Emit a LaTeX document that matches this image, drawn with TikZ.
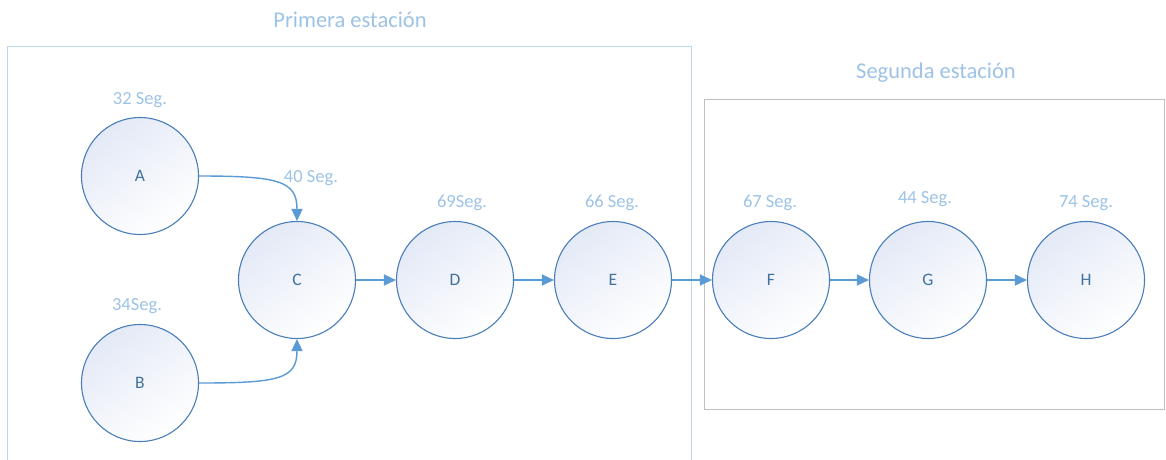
\documentclass[tikz,border=0pt]{standalone}
\usepackage{fontspec}
\setmainfont{Carlito}
\usetikzlibrary{arrows.meta}
\definecolor{cstroke}{HTML}{4A7EBB}
\definecolor{cfill}{HTML}{E3E9F6}
\definecolor{arrc}{HTML}{5B9BD5}
\definecolor{lblc}{HTML}{9DC3E6}
\definecolor{frame1}{HTML}{BDD7EE}
\definecolor{frame2}{HTML}{C0C0C0}
\definecolor{letc}{HTML}{41719C}
\tikzset{
  circ/.style={circle, draw=cstroke, line width=1.1pt, minimum size=117pt, inner sep=0pt,
    top color=cfill, bottom color=white, shading angle=35,
    font=\fontsize{17.5}{20}\selectfont, text=letc},
  lbl/.style={font=\fontsize{18.5}{22}\selectfont, text=lblc, inner sep=0pt},
  ttl/.style={font=\fontsize{22.5}{26}\selectfont, text=lblc, inner sep=0pt},
  arr/.style={draw=arrc, line width=1.4pt, -{Triangle[length=12pt,width=11pt]}, fill=none},
  frameA/.style={draw=frame1, line width=1pt},
  frameB/.style={draw=frame2, line width=1pt}
}
\begin{document}
\begin{tikzpicture}[x=1pt,y=-1pt]
\useasboundingbox (0,0) rectangle (1166,459);
\fill[white] (0,0) rectangle (1166,459);
% frames
\draw[frameA] (7,46) rectangle (691,462);
\draw[frameB] (704,99) rectangle (1164,409);
\node[ttl] (t1) at (350,20) {Primera estación};
\node[ttl] (t2) at (936,73) {Segunda estación};
% circles
\node[circ] (A) at (140,176) {A};
\node[circ] (B) at (140,383) {B};
\node[circ] (C) at (297,280) {C};
\node[circ] (D) at (455,280) {D};
\node[circ] (E) at (613,280) {E};
\node[circ] (F) at (771,280) {F};
\node[circ] (G) at (928,280) {G};
\node[circ] (H) at (1086,280) {H};
% labels
\node[lbl] (lA) at (140,100) {32 Seg.};
\node[lbl] (lB) at (137,306) {34Seg.};
\node[lbl] (lC) at (311,178) {40 Seg.};
\node[lbl] (lD) at (462,203) {69Seg.};
\node[lbl] (lE) at (612,203) {66 Seg.};
\node[lbl] (lF) at (770,203) {67 Seg.};
\node[lbl] (lG) at (925,199) {44 Seg.};
\node[lbl] (lH) at (1086,203) {74 Seg.};
% arrows
\draw[arr] (A.east) .. controls ++(80,0) and ([yshift=40pt]C.north) .. (C.north);
\draw[arr] (B.east) .. controls ++(80,0) and ([yshift=-40pt]C.south) .. (C.south);
\draw[arr] (C) -- (D);
\draw[arr] (D) -- (E);
\draw[arr] (E) -- (F);
\draw[arr] (F) -- (G);
\draw[arr] (G) -- (H);
\end{tikzpicture}
\end{document}
